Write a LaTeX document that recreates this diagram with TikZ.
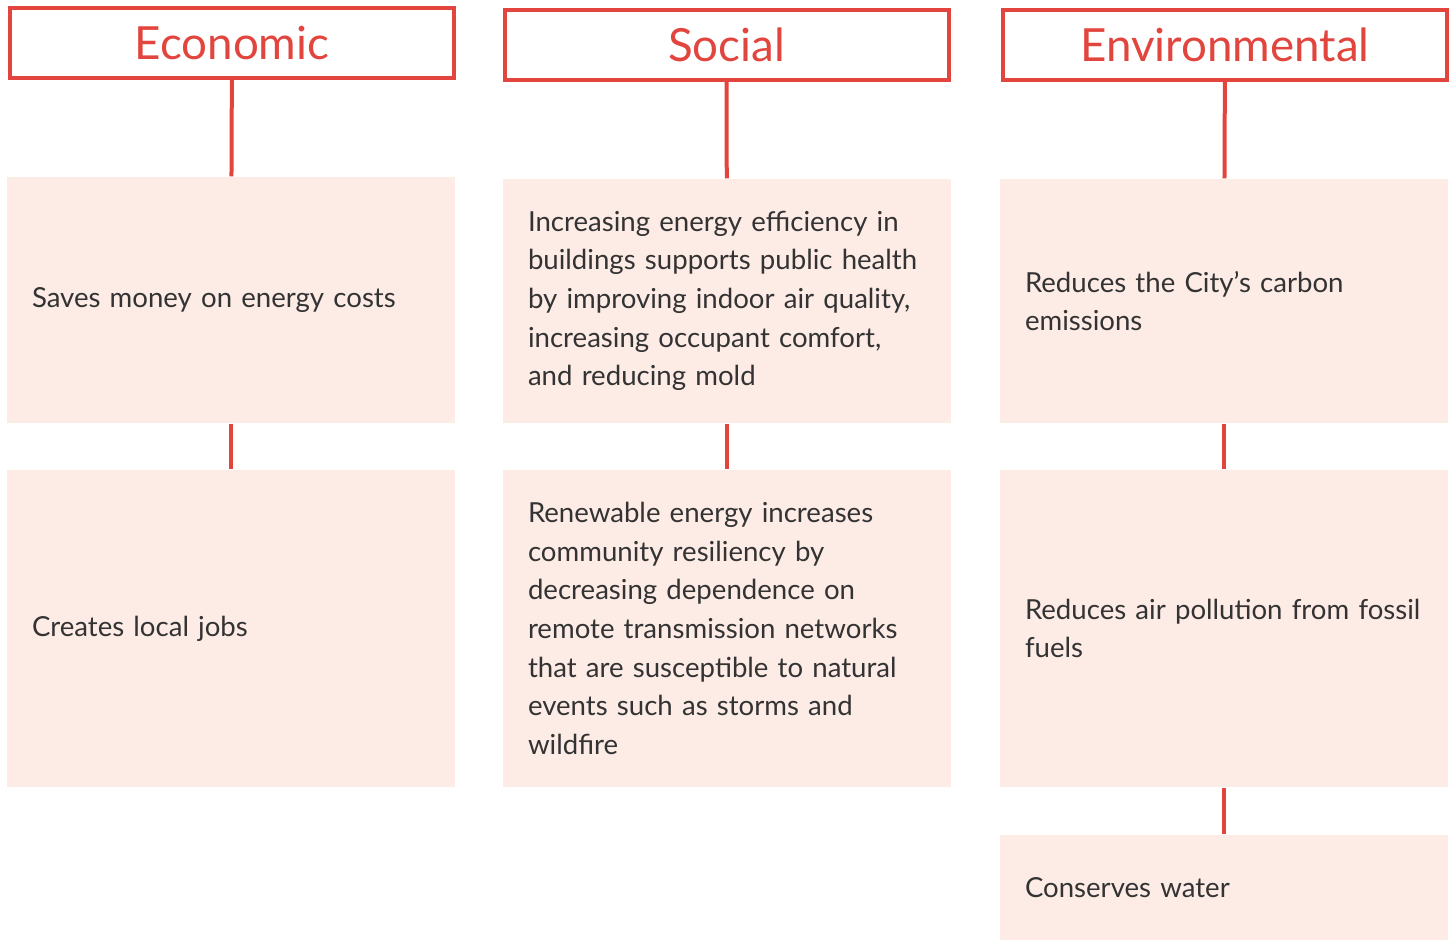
\documentclass[tikz,border=0pt]{standalone}
\usepackage{fontspec}
\setmainfont{Lato}
\usepackage{tikz}
\usetikzlibrary{positioning}

\definecolor{pillarred}{HTML}{E1453D}
\definecolor{pillarfill}{HTML}{FDEBE6}
\definecolor{bodytext}{HTML}{333333}

\hyphenpenalty=10000
\exhyphenpenalty=10000

\begin{document}
\begin{tikzpicture}[
  title/.style={draw=pillarred,line width=0.04cm,minimum width=4.44cm,minimum height=0.70cm,
    text=pillarred,font=\fontsize{13}{15}\selectfont,inner sep=0pt},
  benefit/.style={fill=pillarfill,minimum width=4.48cm,text width=3.98cm,inner xsep=0.25cm,
    align=left,text=bodytext,font=\fontsize{7.85}{11}\selectfont},
  link/.style={draw=pillarred,line width=0.04cm}
]
\useasboundingbox (0,0) rectangle (14.55,-9.41);

% Headers
\node[title] (eco) at (2.32,-0.43) {Economic};
\node[title] (soc) at (7.265,-0.45) {Social};
\node[title] (env) at (12.25,-0.45) {Environmental};

% Economic column
\node[benefit,minimum height=2.46cm] (eco1) at (2.31,-3.00) {Saves money on energy costs};
\node[benefit,minimum height=3.17cm] (eco2) at (2.31,-6.285) {Creates local jobs};

% Social column
\node[benefit,minimum height=2.44cm] (soc1) at (7.27,-3.01) {Increasing energy efficiency in\\ buildings supports public health\\ by improving indoor air quality,\\ increasing occupant comfort,\\ and reducing mold};
\node[benefit,minimum height=3.17cm] (soc2) at (7.27,-6.285) {Renewable energy increases\\ community resiliency by\\ decreasing dependence on\\ remote transmission networks\\ that are susceptible to natural\\ events such as storms and\\ wildfire};

% Environmental column
\node[benefit,minimum height=2.44cm] (env1) at (12.24,-3.01) {Reduces the City's carbon\\ emissions};
\node[benefit,minimum height=3.17cm] (env2) at (12.24,-6.285) {Reduces air pollution from fossil\\ fuels};
\node[benefit,minimum height=1.05cm] (env3) at (12.24,-8.875) {Conserves water};

% Links
\draw[link] (eco) -- (eco1);
\draw[link] (eco1) -- (eco2);
\draw[link] (soc) -- (soc1);
\draw[link] (soc1) -- (soc2);
\draw[link] (env) -- (env1);
\draw[link] (env1) -- (env2);
\draw[link] (env2) -- (env3);
\end{tikzpicture}
\end{document}
